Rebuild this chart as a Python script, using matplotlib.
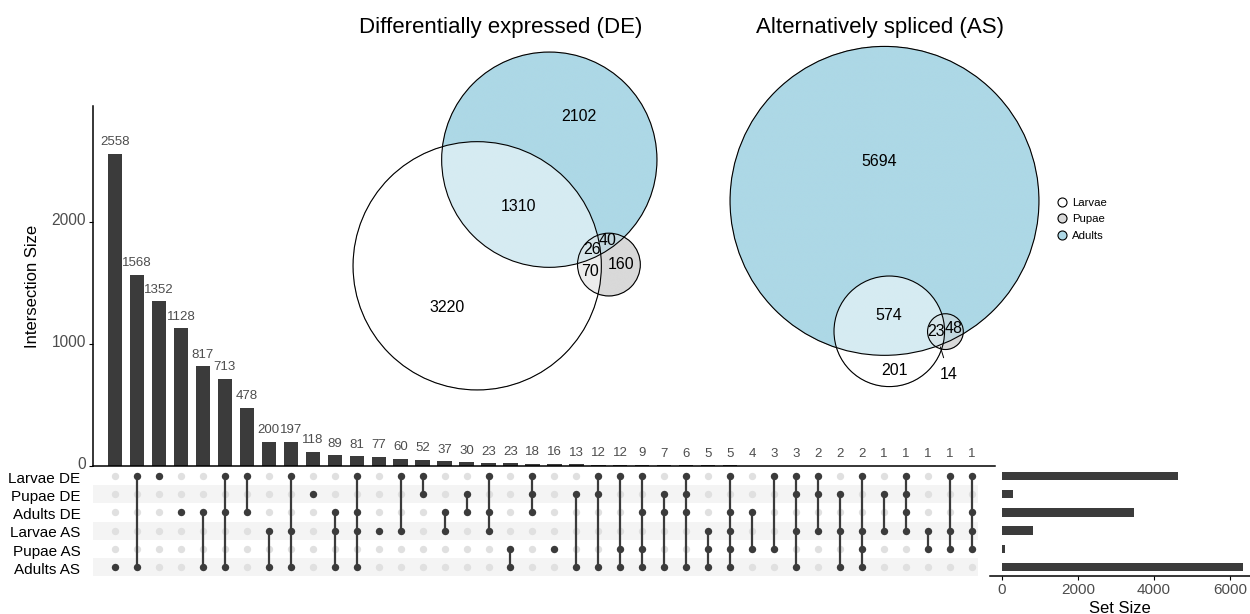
import numpy as np
import matplotlib.pyplot as plt
from matplotlib.patches import Circle
from matplotlib.lines import Line2D
from matplotlib.colors import to_rgb
from matplotlib.transforms import ScaledTranslation

plt.rcParams['font.family'] = ['Liberation Sans', 'DejaVu Sans']

# ---- upset data ----
set_names = ['Larvae DE', 'Pupae DE', 'Adults DE', 'Larvae AS', 'Pupae AS', 'Adults AS']
set_sizes = [4626, 296, 3478, 812, 85, 6339]

inter_sizes = [2558, 1568, 1352, 1128, 817, 713, 478, 200, 197, 118,
               89, 81, 77, 60, 52, 37, 30, 23, 23, 18,
               16, 13, 12, 12, 9, 7, 6, 5, 5, 4,
               3, 3, 2, 2, 2, 1, 1, 1, 1, 1]
# members of each intersection (index into set_names)
inter_sets = [[5], [0, 5], [0], [2], [2, 5], [0, 2, 5], [0, 2], [3, 5], [0, 3, 5], [1],
              [2, 3, 5], [0, 2, 3, 5], [3], [0, 3], [0, 1], [2, 3], [1, 2], [0, 2, 3], [4, 5], [0, 1, 2],
              [4], [1, 5], [0, 1, 5], [0, 4, 5], [0, 2, 4, 5], [1, 2, 5], [0, 1, 2, 5], [3, 4, 5], [0, 2, 3, 4, 5], [2, 4],
              [0, 4], [0, 1, 3, 5], [0, 1, 3], [1, 3, 5], [0, 3, 4, 5], [1, 3], [0, 1, 2, 3], [3, 4], [0, 3, 4], [0, 2, 3, 4]]

# ---- venn data (0 = Larvae, 1 = Pupae, 2 = Adults) ----
stage_names = ['Larvae', 'Pupae', 'Adults']
stage_colors = ['#ffffff', '#d9d9d9', '#add8e6']

de_regions = [(0,), (2,), (0, 2), (0, 1, 2), (1, 2), (0, 1), (1,)]
de_counts = [3220, 2102, 1310, 26, 40, 70, 160]

as_regions = [(2,), (0, 2), (0,), (1, 2), (0, 1, 2), (0, 1)]
as_counts = [5694, 574, 201, 48, 23, 14]

W, H = 1250, 614
DARK = '#3b3b3b'
GREY_TXT = '#4d4d4d'


def box(x0, y0, x1, y1):
    return [x0 / W, 1 - y1 / H, (x1 - x0) / W, (y1 - y0) / H]


def lens_area(r1, r2, d):
    if d >= r1 + r2:
        return 0.0
    if d <= abs(r1 - r2):
        return np.pi * min(r1, r2) ** 2
    a = r1 ** 2 * np.arccos((d * d + r1 * r1 - r2 * r2) / (2 * d * r1))
    b = r2 ** 2 * np.arccos((d * d + r2 * r2 - r1 * r1) / (2 * d * r2))
    c = 0.5 * np.sqrt((-d + r1 + r2) * (d + r1 - r2) * (d - r1 + r2) * (d + r1 + r2))
    return a + b - c


def solve_dist(r1, r2, area):
    lo, hi = abs(r1 - r2), r1 + r2
    for _ in range(80):
        mid = (lo + hi) / 2
        if lens_area(r1, r2, mid) > area:
            lo = mid
        else:
            hi = mid
    return (lo + hi) / 2


def venn_fit(regions, counts, anchor, second, angle_deg, turn):
    sizes = np.zeros(3)
    for reg, n in zip(regions, counts):
        for s in reg:
            sizes[s] += n

    def shared(i, j):
        return sum(n for reg, n in zip(regions, counts) if i in reg and j in reg)

    r = np.sqrt(sizes / np.pi)
    third = 3 - anchor - second
    d_as = solve_dist(r[anchor], r[second], shared(anchor, second))
    d_at = solve_dist(r[anchor], r[third], shared(anchor, third))
    d_st = solve_dist(r[second], r[third], shared(second, third))
    phi = np.arccos(np.clip((d_as ** 2 + d_at ** 2 - d_st ** 2) / (2 * d_as * d_at), -1, 1))
    th = np.radians(angle_deg)
    centers = np.zeros((3, 2))
    centers[second] = d_as * np.array([np.cos(th), np.sin(th)])
    centers[third] = d_at * np.array([np.cos(th + turn * phi), np.sin(th + turn * phi)])
    return centers, r


def draw_venn(pxbox, regions, counts, centers, r):
    ax = fig.add_axes(box(*pxbox))
    x0, x1 = (centers[:, 0] - r).min(), (centers[:, 0] + r).max()
    y0, y1 = (centers[:, 1] - r).min(), (centers[:, 1] + r).max()
    pad = 0.006 * (y1 - y0)
    x0, x1, y0, y1 = x0 - pad, x1 + pad, y0 - pad, y1 + pad
    n = 900
    X, Y = np.meshgrid(np.linspace(x0, x1, n), np.linspace(y0, y1, n))
    signed = np.stack([np.hypot(X - cx, Y - cy) - rr for (cx, cy), rr in zip(centers, r)])
    inside = signed < 0
    cnt = inside.sum(0)
    img = np.zeros((n, n, 4))
    for k in range(3):
        img[..., :3] += inside[k][..., None] * np.array(to_rgb(stage_colors[k]))
    img[..., :3] /= np.maximum(cnt, 1)[..., None]
    img[..., 3] = cnt > 0
    ax.imshow(img, extent=(x0, x1, y0, y1), origin='lower', interpolation='antialiased')
    for c, rr in zip(centers, r):
        ax.add_patch(Circle(c, rr, fill=False, lw=0.8, ec='black'))
    scale = min((pxbox[2] - pxbox[0]) / (x1 - x0), (pxbox[3] - pxbox[1]) / (y1 - y0))
    clear = np.abs(signed).min(0)
    for reg, num in zip(regions, counts):
        mask = np.all([inside[k] == (k in reg) for k in range(3)], axis=0)
        if not mask.any():
            continue
        idx = np.argmax(np.where(mask, clear, -1))
        px, py = X.flat[idx], Y.flat[idx]
        if clear.flat[idx] * scale < 6:
            ax.annotate(str(num), (px, py), xytext=(6, -20), textcoords='offset points',
                        ha='center', va='center', fontsize=11.5,
                        arrowprops=dict(arrowstyle='-', lw=0.7, color='black', shrinkA=5, shrinkB=0))
        else:
            ax.text(px, py, str(num), ha='center', va='center', fontsize=11.5)
    ax.set_xlim(x0, x1)
    ax.set_ylim(y0, y1)
    ax.set_aspect('equal', adjustable='box')
    ax.axis('off')
    return ax


fig = plt.figure(figsize=(12.5, 6.14), dpi=100)

ncol = len(inter_sizes)
cols = np.arange(ncol)
xlim = (-1.0, 40.05)

# ---- intersection bars ----
axb = fig.add_axes(box(93, 106, 995, 466))
bars = axb.bar(cols, inter_sizes, width=0.65, color=DARK)
axb.bar_label(bars, padding=4, fontsize=9.5, color=GREY_TXT)
axb.set_xlim(*xlim)
axb.set_ylim(0, 2951)
axb.set_xticks([])
axb.set_yticks([0, 1000, 2000])
axb.tick_params(axis='y', labelsize=11.2, labelcolor=GREY_TXT, length=3, width=0.8, pad=2)
for lab in axb.get_yticklabels():
    lab.set_transform(lab.get_transform() + ScaledTranslation(0, 2.5 / 72, fig.dpi_scale_trans))
axb.set_ylabel('Intersection Size', fontsize=12, labelpad=8)
for s in ['top', 'right']:
    axb.spines[s].set_visible(False)
for s in ['left', 'bottom']:
    axb.spines[s].set_linewidth(1.1)

# ---- matrix ----
axm = fig.add_axes(box(93, 467, 995, 576))
axm.set_xlim(*xlim)
axm.set_ylim(len(set_names) - 0.5, -0.5)
for i in range(1, len(set_names), 2):
    axm.axhspan(i - 0.5, i + 0.5, xmin=0, xmax=(978 - 93) / (995 - 93), color='#f4f4f4', lw=0, zorder=0)
for i, members in enumerate(inter_sets):
    axm.scatter([i] * len(set_names), range(len(set_names)), s=28, color='#e0e0e0', lw=0, zorder=1)
    axm.plot([i, i], [min(members), max(members)], color=DARK, lw=1.6, zorder=2)
    axm.scatter([i] * len(members), members, s=28, color=DARK, lw=0, zorder=3)
axm.set_xticks([])
axm.set_yticks(range(len(set_names)))
axm.set_yticklabels(set_names, fontsize=11)
axm.tick_params(axis='y', length=0, pad=9)
for lab in axm.get_yticklabels():
    lab.set_transform(lab.get_transform() + ScaledTranslation(0, -1.0 / 72, fig.dpi_scale_trans))
for s in axm.spines.values():
    s.set_visible(False)

# ---- set sizes ----
axs = fig.add_axes(box(990, 467, 1250, 576))
axs.barh(range(len(set_names)), set_sizes, height=0.45, color=DARK)
axs.set_ylim(len(set_names) - 0.5, -0.5)
axs.set_xlim(-307, 6526)
axs.set_yticks([])
axs.set_xticks([0, 2000, 4000, 6000])
axs.tick_params(axis='x', labelsize=11, labelcolor=GREY_TXT, length=3, width=0.8, pad=2)
axs.set_xlabel('Set Size', fontsize=12, labelpad=3)
for s in ['top', 'right', 'left']:
    axs.spines[s].set_visible(False)
axs.spines['bottom'].set_linewidth(1.1)

# ---- venn diagrams ----
de_c, de_r = venn_fit(de_regions, de_counts, anchor=0, second=2, angle_deg=55.8, turn=-1)
draw_venn((351, 50, 659, 392), de_regions, de_counts, de_c, de_r)
fig.text(501 / W, 1 - 28 / H, 'Differentially expressed (DE)', ha='center', va='center', fontsize=16)

as_c, as_r = venn_fit(as_regions, as_counts, anchor=2, second=0, angle_deg=-87.9, turn=1)
draw_venn((728, 43, 1041, 390), as_regions, as_counts, as_c, as_r)
fig.text(880 / W, 1 - 28 / H, 'Alternatively spliced (AS)', ha='center', va='center', fontsize=16)

handles = [Line2D([], [], ls='', marker='o', ms=6.5, mfc=c, mec='black', mew=0.8) for c in stage_colors]
fig.legend(handles, stage_names, loc='upper left', bbox_to_anchor=(1056 / W, 1 - 198 / H),
           frameon=False, fontsize=8.2, handletextpad=0.4, labelspacing=0.55, handlelength=1.0,
           borderaxespad=0, borderpad=0)

fig.savefig('out.png', dpi=100)
